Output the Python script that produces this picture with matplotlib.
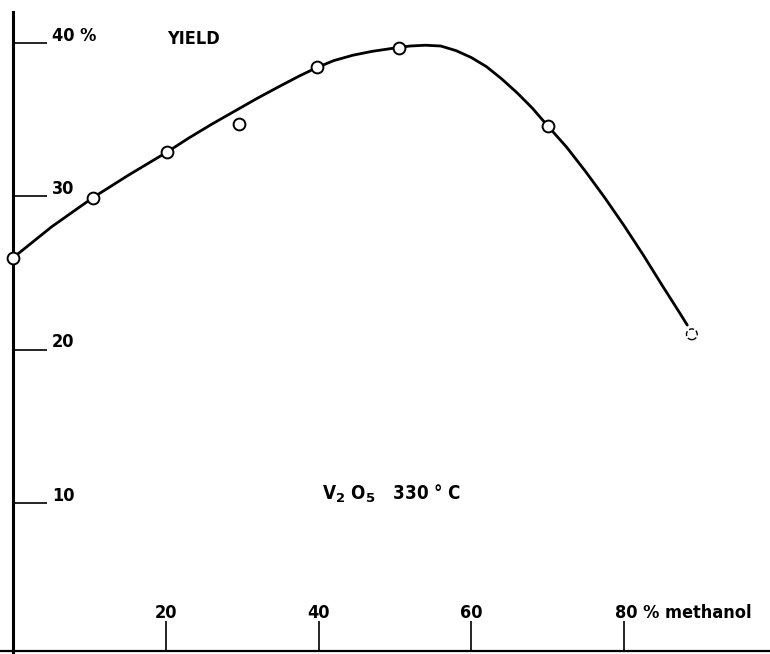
from __future__ import annotations

import matplotlib

matplotlib.use("Agg")
import matplotlib.pyplot as plt
from matplotlib import font_manager

# measured points (methanol %, yield %)
point_x = [0.0, 10.4, 20.2, 29.6, 39.8, 50.5, 70.0]
point_y = [26.0, 29.9, 32.9, 34.7, 38.4, 39.7, 34.6]
# last point is drawn as a faint (dashed) circle
last_x = [88.9]
last_y = [21.0]

# hand-drawn curve
curve_x = [0.0, 5.0, 10.4, 15.0, 20.2, 23.0, 26.0, 29.0, 32.0, 35.0, 37.5,
           39.8, 42.0, 44.5, 47.0, 50.4, 52.0, 54.0, 56.0, 58.0, 60.0, 62.0,
           64.0, 66.0, 68.0, 70.0, 72.5, 75.0, 77.5, 80.0, 82.5, 85.0, 87.3, 88.3]
curve_y = [26.0, 28.0, 29.9, 31.35, 32.9, 33.8, 34.7, 35.55, 36.4, 37.2, 37.85,
           38.4, 38.85, 39.2, 39.45, 39.7, 39.8, 39.85, 39.8, 39.5, 39.05, 38.45,
           37.65, 36.75, 35.75, 34.6, 33.2, 31.6, 29.9, 28.1, 26.2, 24.2, 22.4, 21.6]

y_ticks = [10, 20, 30, 40]
y_tick_labels = ["10", "20", "30", "40 %"]
x_ticks = [20, 40, 60]
x_tick_labels = ["20", "40", "60"]
x_last_tick = 80
x_last_label = "80 % methanol"


def pick_font() -> list[str]:
    names = {f.name for f in font_manager.fontManager.ttflist}
    for cand in ("Liberation Sans Narrow", "DejaVu Sans Condensed"):
        if cand in names:
            return [cand, "DejaVu Sans"]
    return ["DejaVu Sans"]


FONT = pick_font()


def main() -> None:
    fig = plt.figure(figsize=(7.7, 6.54), dpi=100)
    ax = fig.add_axes([0, 0, 1, 1])
    ax.set_xlim(-1.74, 99.14)
    ax.set_ylim(0.15, 42.8)

    for side in ("top", "right"):
        ax.spines[side].set_visible(False)
    ax.spines["left"].set_position(("data", 0))
    ax.spines["left"].set_bounds(0.15, 42.0)
    ax.spines["left"].set_linewidth(2.2)
    ax.spines["bottom"].set_position(("axes", 0.004))
    ax.spines["bottom"].set_linewidth(1.6)

    ax.set_yticks(y_ticks)
    ax.set_yticklabels([])
    ax.set_xticks(x_ticks + [x_last_tick])
    ax.set_xticklabels([])
    ax.tick_params(axis="y", direction="in", length=24.5, width=1.2, color="black")
    ax.tick_params(axis="x", direction="in", length=21.5, width=1.2, color="black")

    txt = dict(family=FONT, weight="bold", stretch="condensed", color="black")
    size = 14 if FONT[0] != "DejaVu Sans" else 13
    for v, lab in zip(y_ticks, y_tick_labels):
        ax.text(5.1, v + 0.15, lab, fontsize=size, ha="left", va="baseline", **txt)
    for v, lab in zip(x_ticks, x_tick_labels):
        ax.text(v, 2.5, lab, fontsize=size, ha="center", va="baseline", **txt)
    ax.text(x_last_tick - 1.2, 2.5, x_last_label, fontsize=size, ha="left", va="baseline", **txt)

    ax.text(20.1, 39.9, "YIELD", fontsize=size, ha="left", va="baseline", **txt)
    ax.text(40.4, 10.2, r"V$_{\mathbf{2}}$ O$_{\mathbf{5}}$   330 ° C", fontsize=size + 0.5,
            ha="left", va="baseline", **txt)

    ax.plot(curve_x, curve_y, color="black", lw=2.0, solid_capstyle="round",
            solid_joinstyle="round", zorder=2)
    ax.plot(point_x, point_y, "o", ms=8.5, mfc="white", mec="black", mew=1.4,
            clip_on=False, zorder=3)
    ax.scatter(last_x, last_y, s=60, facecolors="white", edgecolors="black",
               linewidths=1.0, linestyle="--", zorder=3)

    fig.savefig("out.png", dpi=100)
    plt.close(fig)


if __name__ == "__main__":
    main()
